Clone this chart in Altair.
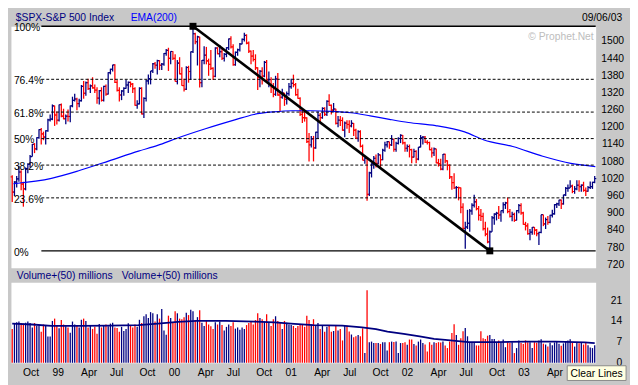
import altair as alt
import pandas as pd

# ---------------- weekly OHLC, weeks starting Monday 1998-08-31 ----------------
first_open = 1027

high_1998 = [1033, 1012, 1030, 1066, 1050, 1010, 1060, 1075, 1103, 1142, 1145, 1165, 1193, 1198, 1185, 1190, 1230, 1245]
low_1998 = [939, 960, 990, 1010, 980, 923, 980, 1040, 1060, 1098, 1110, 1120, 1160, 1140, 1155, 1140, 1185, 1220]
close_1998 = [974, 1009, 1020, 1044, 1002, 985, 1056, 1071, 1098, 1141, 1125, 1164, 1192, 1177, 1166, 1188, 1226, 1229]

high_1999 = [1280, 1276, 1255, 1280, 1283, 1265, 1245, 1262, 1276, 1307, 1317, 1303, 1300, 1348, 1362, 1360,
             1370, 1350, 1375, 1350, 1340, 1330, 1340, 1345, 1350, 1392, 1405, 1419, 1420, 1365, 1340, 1330,
             1340, 1366, 1360, 1360, 1355, 1340, 1295, 1340, 1340, 1305, 1365, 1385, 1397, 1425, 1428, 1436,
             1435, 1425, 1460, 1474]
low_1999 = [1225, 1205, 1210, 1220, 1235, 1228, 1211, 1220, 1218, 1270, 1290, 1260, 1270, 1290, 1300, 1310,
            1330, 1320, 1335, 1320, 1282, 1280, 1290, 1290, 1310, 1315, 1385, 1395, 1355, 1325, 1290, 1295,
            1310, 1335, 1320, 1340, 1320, 1275, 1265, 1280, 1245, 1233, 1290, 1350, 1350, 1390, 1405, 1385,
            1400, 1400, 1415, 1450]
close_1999 = [1275, 1243, 1225, 1279, 1239, 1230, 1239, 1238, 1275, 1294, 1299, 1283, 1293, 1343, 1319, 1356,
              1335, 1345, 1338, 1330, 1302, 1328, 1294, 1343, 1316, 1391, 1403, 1418, 1357, 1329, 1313, 1327,
              1336, 1348, 1357, 1351, 1335, 1277, 1282, 1336, 1247, 1301, 1362, 1370, 1397, 1422, 1417, 1433,
              1417, 1421, 1458, 1469]

high_2000 = [1478, 1466, 1466, 1455, 1435, 1445, 1410, 1370, 1413, 1415, 1465, 1553, 1530, 1520, 1516, 1435,
             1483, 1481, 1440, 1470, 1410, 1480, 1480, 1488, 1480, 1460, 1480, 1510, 1518, 1490, 1465, 1475,
             1495, 1510, 1530, 1525, 1500, 1468, 1470, 1455, 1410, 1400, 1410, 1432, 1435, 1395, 1375, 1355,
             1380, 1390, 1320, 1335]
low_2000 = [1397, 1420, 1435, 1360, 1350, 1385, 1345, 1325, 1330, 1356, 1365, 1460, 1490, 1416, 1339, 1340,
            1420, 1420, 1380, 1400, 1365, 1375, 1455, 1445, 1435, 1430, 1445, 1470, 1475, 1415, 1415, 1450,
            1465, 1490, 1500, 1490, 1460, 1420, 1430, 1400, 1330, 1340, 1350, 1375, 1360, 1340, 1320, 1305,
            1310, 1310, 1255, 1300]
close_2000 = [1441, 1465, 1441, 1360, 1424, 1387, 1346, 1333, 1409, 1395, 1464, 1527, 1499, 1516, 1356, 1434,
              1452, 1432, 1420, 1406, 1378, 1477, 1457, 1464, 1441, 1455, 1478, 1509, 1481, 1419, 1462, 1471,
              1491, 1507, 1521, 1494, 1466, 1449, 1437, 1408, 1374, 1396, 1379, 1427, 1365, 1367, 1341, 1315,
              1369, 1313, 1305, 1320]

high_2001 = [1320, 1325, 1355, 1370, 1384, 1355, 1335, 1305, 1265, 1260, 1235, 1180, 1170, 1170, 1185, 1255,
             1250, 1270, 1270, 1295, 1316, 1280, 1285, 1265, 1240, 1240, 1235, 1220, 1225, 1225, 1225, 1215,
             1195, 1190, 1190, 1140, 1096, 1092, 1045, 1075, 1100, 1105, 1110, 1105, 1125, 1150, 1152, 1150,
             1173, 1160, 1150, 1165]
low_2001 = [1275, 1280, 1310, 1335, 1340, 1310, 1300, 1240, 1215, 1220, 1145, 1081, 1130, 1081, 1125, 1160,
            1215, 1230, 1240, 1240, 1275, 1245, 1255, 1210, 1200, 1205, 1188, 1165, 1195, 1180, 1200, 1170,
            1160, 1150, 1130, 1085, 1073, 944, 960, 1025, 1055, 1060, 1070, 1055, 1085, 1115, 1130, 1125,
            1135, 1115, 1115, 1140]
close_2001 = [1298, 1318, 1342, 1354, 1349, 1314, 1301, 1245, 1234, 1233, 1150, 1139, 1160, 1128, 1183, 1242,
              1234, 1266, 1245, 1291, 1277, 1260, 1264, 1214, 1225, 1224, 1190, 1215, 1210, 1205, 1214, 1190,
              1162, 1185, 1134, 1085, 1092, 966, 1041, 1072, 1092, 1074, 1104, 1087, 1120, 1139, 1150, 1139,
              1158, 1123, 1144, 1161]

high_2002 = [1176, 1173, 1150, 1140, 1140, 1125, 1125, 1120, 1131, 1173, 1170, 1170, 1155, 1150, 1130, 1130,
             1125, 1090, 1090, 1107, 1108, 1085, 1070, 1030, 1040, 995, 993, 990, 935, 870, 912, 915,
             935, 965, 950, 925, 915, 902, 870, 850, 840, 890, 900, 905, 925, 910, 938, 940,
             955, 915, 905, 902]
low_2002 = [1145, 1140, 1115, 1115, 1095, 1075, 1095, 1075, 1085, 1130, 1140, 1145, 1140, 1120, 1095, 1100,
            1075, 1063, 1050, 1050, 1075, 1050, 1020, 982, 985, 952, 945, 900, 845, 776, 845, 835,
            895, 920, 910, 875, 873, 840, 820, 795, 769, 835, 860, 875, 880, 870, 900, 915,
            900, 885, 872, 870]
close_2002 = [1172, 1146, 1127, 1133, 1122, 1096, 1116, 1089, 1131, 1164, 1166, 1148, 1147, 1122, 1111, 1125,
              1076, 1073, 1054, 1106, 1083, 1067, 1027, 1007, 989, 990, 989, 921, 847, 852, 865, 908,
              928, 940, 916, 893, 889, 846, 827, 800, 835, 884, 897, 900, 894, 909, 930, 936,
              906, 889, 896, 875]

high_2003 = [911, 932, 935, 905, 870, 865, 845, 852, 852, 845, 835, 895, 895, 885, 890, 895,
             912, 932, 937, 947, 948, 965, 992, 1000, 1015, 1000, 995, 1015, 1015, 1000, 1010, 990,
             995, 1011, 1010, 1030]
low_2003 = [875, 900, 895, 860, 840, 825, 806, 825, 825, 820, 789, 830, 855, 845, 860, 865,
            885, 895, 918, 925, 915, 930, 960, 975, 988, 970, 968, 980, 975, 975, 975, 960,
            975, 985, 985, 1005]
close_2003 = [909, 927, 901, 861, 856, 829, 834, 851, 841, 829, 833, 895, 863, 878, 868, 893,
              898, 930, 933, 946, 933, 964, 987, 988, 995, 976, 985, 998, 993, 998, 980, 977,
              990, 993, 1008, 1021]

# ---------------- weekly volume (panel units) ----------------
vol_1998 = [11.5, 13.5, 13.8, 14.0, 13.5, 13.3, 13.6, 14.0, 13.5, 12.0, 13.5, 12.5, 12.5, 10.5, 13.0, 12.5, 8.9, 8.9]
vol_1999 = [14.2, 15.0, 12.8, 11.7, 14.5, 13.0, 12.4, 12.0, 10.2, 14.0, 13.0, 12.6, 12.0, 14.6, 15.0, 14.2,
            12.0, 12.8, 11.5, 12.2, 9.9, 13.2, 12.0, 12.6, 13.0, 12.4, 13.3, 13.6, 12.0, 11.8, 10.5, 12.2,
            10.8, 11.5, 13.4, 12.6, 12.0, 13.0, 12.2, 14.6, 13.5, 15.8, 16.5, 15.2, 17.2, 16.8, 14.0, 16.5,
            15.0, 18.3, 11.0, 9.5]
vol_2000 = [16.0, 15.2, 13.5, 17.5, 16.8, 15.0, 14.8, 15.5, 17.0, 16.2, 18.0, 17.5, 14.5, 15.5, 17.8, 13.6,
            12.5, 14.5, 13.0, 12.4, 11.5, 13.8, 13.0, 14.0, 12.8, 11.0, 12.2, 13.0, 12.5, 13.8, 11.6, 12.0,
            11.2, 12.0, 11.5, 12.8, 13.5, 14.2, 13.0, 14.5, 16.8, 15.2, 14.8, 14.0, 16.5, 13.8, 12.5, 14.8,
            15.8, 14.2, 13.5, 11.5]
vol_2001 = [14.2, 13.6, 13.0, 12.8, 12.5, 11.8, 12.5, 12.8, 13.0, 12.2, 16.0, 14.5, 13.0, 14.8, 12.5, 13.5,
            11.5, 12.5, 10.5, 12.2, 12.8, 10.5, 10.8, 12.5, 11.0, 11.5, 7.6, 12.6, 12.6, 10.6, 9.6, 8.7,
            9.0, 9.4, 9.0, 11.7, 3.3, 24.6, 7.0, 7.2, 6.7, 6.7, 6.7, 6.4, 7.0, 7.0, 4.2, 7.0,
            7.2, 7.1, 7.2, 3.3]
vol_2002 = [6.7, 6.7, 7.0, 6.1, 7.9, 7.9, 6.4, 5.9, 7.2, 7.9, 6.7, 6.2, 3.8, 7.0, 6.1, 7.0,
            6.7, 7.0, 6.9, 7.2, 5.9, 5.0, 7.2, 10.1, 13.1, 9.4, 6.1, 8.3, 10.7, 11.8, 9.0, 6.7,
            6.7, 6.7, 5.9, 5.9, 10.7, 8.3, 8.1, 9.2, 9.4, 8.1, 8.1, 7.0, 7.6, 7.0, 7.9, 5.3,
            7.0, 6.7, 7.0, 3.3]
vol_2003 = [5.0, 7.6, 6.7, 6.4, 7.6, 7.0, 7.0, 5.0, 7.0, 6.8, 7.6, 8.0, 6.5, 6.2, 5.5, 6.8,
            6.0, 6.9, 7.2, 6.5, 5.8, 6.6, 7.4, 7.6, 8.0, 6.8, 5.5, 7.0, 6.6, 6.8, 6.2, 6.9,
            6.0, 5.2, 5.0, 6.0]

# ---------------- EMA(200) ----------------
ema_dates = ["1998-09-04", "1999-01-01", "1999-04-01", "1999-07-01", "1999-10-01", "1999-11-30",
             "2000-01-30", "2000-04-28", "2000-07-29", "2000-09-27", "2000-11-27", "2001-01-26",
             "2001-03-27", "2001-05-28", "2001-07-28", "2001-09-27", "2001-11-26", "2002-01-25",
             "2002-04-20", "2002-07-20", "2002-09-19", "2002-12-18", "2003-03-22", "2003-06-18",
             "2003-09-03"]
ema_values = [1003, 1022, 1050, 1083, 1117, 1137, 1162, 1195, 1226, 1245, 1254, 1258,
              1258, 1256, 1251, 1240, 1228, 1217, 1206, 1184, 1156, 1133, 1099, 1074, 1063]

# ---------------- volume moving average (50) ----------------
vma_dates = ["1998-08-31", "1998-11-01", "1999-01-01", "1999-04-01", "1999-07-01", "1999-10-01",
             "1999-12-01", "2000-02-01", "2000-04-01", "2000-07-01", "2000-10-01", "2000-12-01",
             "2001-02-01", "2001-04-01", "2001-07-01", "2001-09-01", "2001-10-15", "2001-11-20",
             "2002-01-10", "2002-03-01", "2002-04-15", "2002-05-20", "2002-08-01", "2002-11-01",
             "2003-02-01", "2003-05-01", "2003-08-01", "2003-09-01"]
vma_values = [13.3, 13.0, 12.5, 12.5, 12.6, 12.8, 13.3, 13.9, 14.2, 14.2, 14.0, 13.7,
              13.2, 12.8, 12.6, 12.0, 11.4, 10.6, 9.8, 9.0, 8.1, 7.8, 7.0, 7.0,
              7.2, 7.2, 6.9, 6.7]

# ---------------- Fibonacci retracement & trend line ----------------
fib_labels = ["100%", "76.4%", "61.8%", "50%", "38.2%", "23.6%", "0%"]
fib_fracs = [1.0, 0.764, 0.618, 0.5, 0.382, 0.236, 0.0]
swing_low, swing_high = 768.6, 1552.9
trend_dates = ["2000-03-20", "2002-10-07"]
trend_prices = [1552.9, 768.6]

price_ticks = [720, 780, 840, 900, 960, 1020, 1080, 1140, 1200, 1260, 1320, 1380, 1440, 1500]
vol_ticks = [0, 7, 14, 21]
quarter_starts = ["1998-10-01", "1999-01-01", "1999-04-01", "1999-07-01", "1999-10-01", "2000-01-01",
                  "2000-04-01", "2000-07-01", "2000-10-01", "2001-01-01", "2001-04-01", "2001-07-01",
                  "2001-10-01", "2002-01-01", "2002-04-01", "2002-07-01", "2002-10-01", "2003-01-01",
                  "2003-04-01", "2003-07-01"]
quarter_labels = ["Oct", "99", "Apr", "Jul", "Oct", "00", "Apr", "Jul", "Oct", "01", "Apr", "Jul",
                  "Oct", "02", "Apr", "Jul", "Oct", "03", "Apr", ""]

# ---------------- tables ----------------
high = high_1998 + high_1999 + high_2000 + high_2001 + high_2002 + high_2003
low = low_1998 + low_1999 + low_2000 + low_2001 + low_2002 + low_2003
close = close_1998 + close_1999 + close_2000 + close_2001 + close_2002 + close_2003
vol = vol_1998 + vol_1999 + vol_2000 + vol_2001 + vol_2002 + vol_2003
assert len(high) == len(low) == len(close) == len(vol) == 262

opens = [first_open] + close[:-1]
bars = pd.DataFrame({
    "date": pd.date_range("1998-08-31", periods=len(close), freq="7D"),
    "open": opens, "high": high, "low": low, "close": close, "vol": vol,
})
bars["dir"] = ["up" if c >= o else "down" for o, c in zip(opens, close)]

ema_df = pd.DataFrame({"date": pd.to_datetime(ema_dates), "ema": ema_values})
vma_df = pd.DataFrame({"date": pd.to_datetime(vma_dates), "vma": vma_values})
fib_df = pd.DataFrame({"label": fib_labels,
                       "price": [swing_low + f * (swing_high - swing_low) for f in fib_fracs],
                       "edge": [f in (0.0, 1.0) for f in fib_fracs]})
trend_df = pd.DataFrame({"date": pd.to_datetime(trend_dates), "price": trend_prices})
pt_df = pd.DataFrame({"p": price_ticks})
vt_df = pd.DataFrame({"v": vol_ticks})
q_df = pd.DataFrame({"date": pd.to_datetime(quarter_starts), "lab": quarter_labels})
one = pd.DataFrame({"k": [0]})

# ---------------- styling ----------------
W, H1, H2, TB = 596, 246, 82, 14
FULLW = 630
FONT = "Liberation Sans"
FS = 10.5
NAVY, RED, BLUE = "#000080", "#FF0000", "#0000FF"
GRID = "#C6C6C6"
BG = "#C8C8C8"

xscale = alt.Scale(domain=[alt.DateTime(year=1998, month=8, date=27),
                           alt.DateTime(year=2003, month=9, date=4)])
pscale = alt.Scale(domain=[710, swing_high], nice=False, zero=False)
vscale = alt.Scale(domain=[0, 27.3], nice=False, zero=False)
qvals = [alt.DateTime(year=int(d[:4]), month=int(d[5:7]), date=1) for d in quarter_starts]
col = alt.Color("dir:N", scale=alt.Scale(domain=["up", "down"], range=[NAVY, RED]), legend=None)

x_grid = alt.Axis(values=qvals, grid=True, labels=False, ticks=False, domain=False, title=None,
                  gridColor=GRID, gridWidth=2)
y_grid_p = alt.Axis(values=price_ticks, grid=True, labels=False, ticks=False, domain=False, title=None,
                    gridColor=GRID, gridWidth=1.3)
y_grid_v = alt.Axis(values=vol_ticks, grid=True, labels=False, ticks=False, domain=False, title=None,
                    gridColor=GRID, gridWidth=1.3)


def xenc(field="date:T", axis=None):
    return alt.X(field, scale=xscale, axis=axis)


def note(text, x, y, color="black", align="left", baseline="alphabetic", size=FS):
    return alt.Chart(pd.DataFrame({"t": [text]})).mark_text(
        align=align, baseline=baseline, font=FONT, fontSize=size, color=color
    ).encode(text="t:N", x=alt.value(x), y=alt.value(y))


# ---------------- price panel ----------------
top_bounds = alt.Chart(one).mark_rect(opacity=0).encode(
    x=alt.value(0), x2=alt.value(FULLW), y=alt.value(-TB), y2=alt.value(0))

hl = alt.Chart(bars).mark_rule(strokeWidth=1.3).encode(
    x=xenc(axis=x_grid), y=alt.Y("low:Q", scale=pscale, axis=y_grid_p), y2="high:Q", color=col)
op = alt.Chart(bars).mark_rule(strokeWidth=1.2, xOffset=-1.6, x2Offset=0).encode(
    x=xenc(), x2="date", y=alt.Y("open:Q", scale=pscale, axis=None), color=col)
cl = alt.Chart(bars).mark_rule(strokeWidth=1.2, xOffset=0, x2Offset=1.6).encode(
    x=xenc(), x2="date", y=alt.Y("close:Q", scale=pscale, axis=None), color=col)

ema = alt.Chart(ema_df).mark_line(color=BLUE, strokeWidth=1.2, interpolate="monotone").encode(
    x=xenc(), y=alt.Y("ema:Q", scale=pscale, axis=None))

fib_dash = alt.Chart(fib_df).transform_filter("!datum.edge").mark_rule(
    color="black", strokeWidth=1, strokeDash=[3, 2]).encode(
    x=alt.value(31), x2=alt.value(W), y=alt.Y("price:Q", scale=pscale, axis=None))
fib_solid = alt.Chart(fib_df).transform_filter("datum.edge").mark_rule(
    color="black", strokeWidth=1.4).encode(
    x=alt.value(31), x2=alt.value(W), y=alt.Y("price:Q", scale=pscale, axis=None))
fib_text = alt.Chart(fib_df).mark_text(
    align="left", baseline="middle", dy=2, font=FONT, fontSize=FS, color="black").encode(
    x=alt.value(3), y=alt.Y("price:Q", scale=pscale, axis=None), text="label:N")

trend = alt.Chart(trend_df).mark_line(color="black", strokeWidth=2.6).encode(
    x=xenc(), y=alt.Y("price:Q", scale=pscale, axis=None))
ends = alt.Chart(trend_df).mark_square(size=50, color="black", filled=True, opacity=1).encode(
    x=xenc(), y=alt.Y("price:Q", scale=pscale, axis=None))

price_labels = alt.Chart(pt_df).mark_text(
    align="right", baseline="middle", font=FONT, fontSize=FS, color="black").encode(
    x=alt.value(W + 29), y=alt.Y("p:Q", scale=pscale, axis=None), text=alt.Text("p:Q", format="d"))

top = alt.layer(
    top_bounds, hl, ema, fib_dash, fib_solid, op, cl, fib_text, trend, ends, price_labels,
    note("$SPX-S&P 500 Index", 5, -5.5, color=NAVY),
    note("EMA(200)", 122, -5.5, color=BLUE),
    note("09/06/03", FULLW - 7, -5.5, align="right"),
    note("\u00a9 Prophet.Net", W - 2, 11, color="#BDBDBD", align="right", baseline="middle"),
).properties(width=W, height=H1)

# ---------------- volume panel ----------------
bot_bounds = alt.Chart(one).mark_rect(opacity=0).encode(
    x=alt.value(0), x2=alt.value(FULLW), y=alt.value(H2), y2=alt.value(H2 + 20))
vbars = alt.Chart(bars).mark_rule(strokeWidth=1.3).encode(
    x=xenc(axis=x_grid), y=alt.Y("vol:Q", scale=vscale, axis=y_grid_v), y2=alt.datum(0), color=col)
vma = alt.Chart(vma_df).mark_line(color=NAVY, strokeWidth=1.8).encode(
    x=xenc(), y=alt.Y("vma:Q", scale=vscale, axis=None))
vol_labels = alt.Chart(vt_df).mark_text(
    align="right", baseline="middle", font=FONT, fontSize=FS, color="black").encode(
    x=alt.value(W + 27), y=alt.Y("v:Q", scale=vscale, axis=None), text=alt.Text("v:Q", format="d"))
month_labels = alt.Chart(q_df).mark_text(
    align="left", baseline="middle", dx=1, font=FONT, fontSize=FS, color="black").encode(
    x=xenc(), y=alt.value(H2 + 10), text="lab:N")
button = alt.Chart(one).mark_rect(fill="#FFFFE1", stroke="#8A8A8A", strokeWidth=1).encode(
    x=alt.value(567), x2=alt.value(627), y=alt.value(H2 + 3), y2=alt.value(H2 + 18))

bottom = alt.layer(
    bot_bounds, vbars, vma, vol_labels, month_labels, button,
    note("Clear Lines", 597, H2 + 11, align="center", baseline="middle"),
    note("Volume+(50) millions", 6, -3.5, color=NAVY),
    note("Volume+(50) millions", 113, -3.5, color=NAVY),
).properties(width=W, height=H2)

chart = alt.vconcat(top, bottom, spacing=15, bounds="flush",
                    padding={"left": 0, "top": 0, "right": 0, "bottom": 0}).configure(
    background=BG
).configure_view(fill="white", stroke="transparent")

chart.save("out.html", embed_options={"renderer": "svg", "actions": False})
